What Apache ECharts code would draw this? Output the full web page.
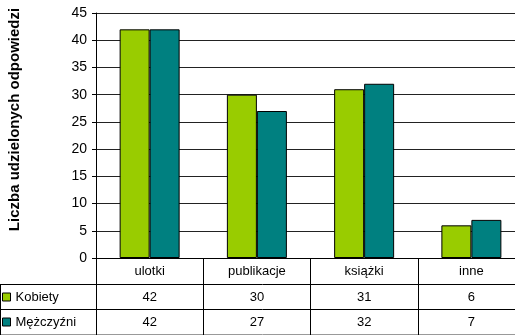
<!DOCTYPE html>
<html>
<head>
<meta charset="utf-8">
<script src="https://cdn.jsdelivr.net/npm/echarts@6/dist/echarts.min.js"></script>
<style>
  html, body { margin: 0; padding: 0; overflow: hidden; background: #fff; }
  #chart { width: 525px; height: 335px; }
</style>
</head>
<body>
<div id="chart"></div>
<script>
// Survey answers by category and respondent group
const categories = ['ulotki', 'publikacje', 'książki', 'inne'];
const kobiety = [42, 30, 31, 6];
const mezczyzni = [42, 27, 32, 7];
const seriesNames = ['Kobiety', 'Mężczyźni'];
const yTicks = { min: 0, max: 45, step: 5 };

const FONT = 'Liberation Sans, Arial, sans-serif';
const GREEN = '#99CC00';
const TEAL = '#008080';

const chart = echarts.init(document.getElementById('chart'), null, { renderer: 'canvas' });

// Data table rules below the plot
const rowTops = [284, 309, 334];
const tableWidth = 525;

const lines = [];
rowTops.forEach(y => {
  lines.push({
    type: 'line',
    shape: { x1: 0, y1: y + 0.5, x2: tableWidth, y2: y + 0.5 },
    style: { stroke: y === 334 ? '#999' : '#000', lineWidth: 1 },
    silent: true
  });
});
lines.push({
  type: 'line',
  shape: { x1: 0.5, y1: rowTops[0], x2: 0.5, y2: 335 },
  style: { stroke: '#000', lineWidth: 1 },
  silent: true
});

const rowAxis = (values, offset) => ({
  type: 'category',
  data: categories,
  position: 'bottom',
  offset: offset,
  axisLine: { show: false },
  axisTick: { show: false },
  axisLabel: {
    interval: 0,
    margin: 7,
    color: '#000',
    fontFamily: FONT,
    fontSize: 13,
    formatter: (v, i) => String(values[i])
  }
});

chart.setOption({
  animation: false,
  textStyle: { fontFamily: FONT },
  grid: { left: 96, right: 0, top: 13, bottom: 77, containLabel: false, outerBoundsMode: 'none' },
  legend: {
    orient: 'vertical',
    left: 2,
    top: 290,
    padding: 0,
    itemWidth: 8,
    itemHeight: 8,
    itemGap: 11,
    icon: 'rect',
    textStyle: { color: '#000', fontFamily: FONT, fontSize: 13, lineHeight: 14 },
    itemStyle: { borderColor: '#000', borderWidth: 1 },
    data: seriesNames
  },
  xAxis: [
    {
      type: 'category',
      data: categories,
      axisLine: { show: true, lineStyle: { color: '#000', width: 1 } },
      axisTick: { show: true, interval: 0, length: 77, lineStyle: { color: '#000', width: 1 } },
      axisLabel: { interval: 0, margin: 7, color: '#000', fontFamily: FONT, fontSize: 13 }
    },
    rowAxis(kobiety, 26),
    rowAxis(mezczyzni, 51)
  ],
  yAxis: {
    type: 'value',
    min: yTicks.min,
    max: yTicks.max,
    interval: yTicks.step,
    name: 'Liczba udzielonych odpowiedzi',
    nameLocation: 'middle',
    nameGap: 74,
    nameTextStyle: { color: '#000', fontFamily: FONT, fontSize: 15, fontWeight: 'bold', padding: [0, 0, 0, 32] },
    axisLine: { show: true, lineStyle: { color: '#000', width: 1 } },
    axisTick: { show: true, length: 4, lineStyle: { color: '#000' } },
    axisLabel: { color: '#000', fontFamily: FONT, fontSize: 14, margin: 9 },
    splitLine: { show: true, lineStyle: { color: '#222', width: 1 } }
  },
  series: [
    {
      name: seriesNames[0],
      type: 'bar',
      data: kobiety,
      barWidth: 30,
      barGap: '0%',
      itemStyle: { color: GREEN, borderColor: '#000', borderWidth: 1 }
    },
    {
      name: seriesNames[1],
      type: 'bar',
      data: mezczyzni,
      barWidth: 30,
      barGap: '0%',
      itemStyle: { color: TEAL, borderColor: '#000', borderWidth: 1 }
    }
  ],
  graphic: lines
});
</script>
</body>
</html>
